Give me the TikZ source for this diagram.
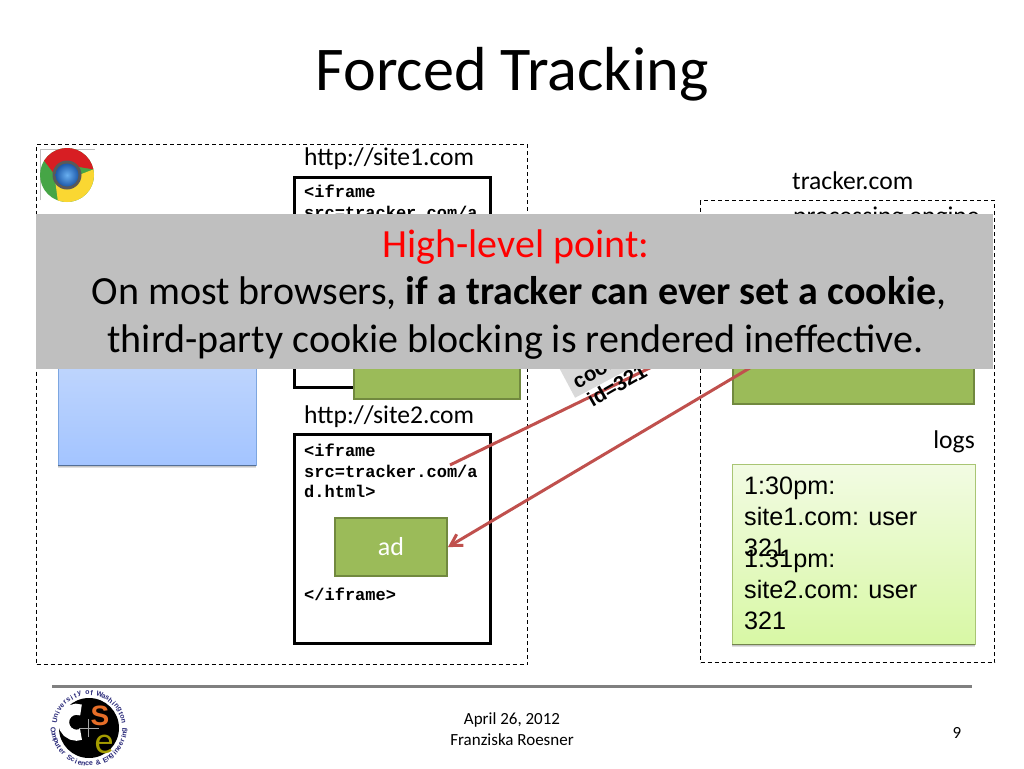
\documentclass[tikz,border=0pt]{standalone}
\usepackage{fontspec}
\setmainfont{Carlito}
\setmonofont{Liberation Mono}
\newfontfamily\arialfont{Liberation Sans}
\usepackage{xcolor}
\usetikzlibrary{arrows.meta}
\definecolor{adgreen}{RGB}{155,187,89}
\definecolor{adedge}{RGB}{113,137,63}
\definecolor{arrowred}{RGB}{192,80,77}
\definecolor{bannergray}{RGB}{191,191,191}
\definecolor{uwnavy}{RGB}{40,40,120}
\definecolor{pagetop}{RGB}{208,224,252}
\definecolor{pagebot}{RGB}{163,196,255}
\definecolor{pageedge}{RGB}{125,166,224}
\definecolor{logtop}{RGB}{242,251,227}
\definecolor{logbot}{RGB}{216,248,165}
\definecolor{logedge}{RGB}{169,197,116}
\definecolor{uwsign}{RGB}{230,110,40}
\definecolor{chromeblue}{RGB}{105,175,240}
\definecolor{chromedeep}{RGB}{30,90,170}
\definecolor{chromegreen}{RGB}{70,165,70}
\definecolor{chromered}{RGB}{215,30,35}
\definecolor{chromeyellow}{RGB}{250,215,50}
\tikzset{
  zone/.style   ={draw,line width=1pt,dash pattern=on 4pt off 3pt,anchor=north west,inner sep=0pt},
  frame/.style  ={draw,line width=3pt,anchor=north west,inner sep=0pt},
  adbox/.style  ={draw=adedge,fill=adgreen,line width=2pt,inner sep=0pt,text=white,anchor=north west,font=\fontsize{26}{30}\selectfont},
  url/.style    ={anchor=base west,inner sep=0pt,font=\fontsize{25.6}{30}\selectfont},
  code/.style   ={anchor=north west,inner sep=0pt,align=left,font=\fontsize{17}{20.5}\selectfont\ttfamily\bfseries},
  logtxt/.style ={anchor=north west,inner sep=0pt,align=left,font=\fontsize{25.2}{30.6}\selectfont\arialfont},
  msg/.style    ={-{Straight Barb[length=11pt,width=13pt]},draw=arrowred,line width=3pt},
  say/.style    ={anchor=base,inner sep=0pt,font=\fontsize{40}{44}\selectfont},
  foot/.style   ={inner sep=0pt,align=center,font=\fontsize{17}{21}\selectfont},
  softedge/.style={fill=black,opacity=.12},
  ring/.style   ={inner sep=0pt,text=uwnavy,font=\fontsize{7}{8}\selectfont\arialfont\bfseries},
}

\begin{document}
\begin{tikzpicture}[x=1pt,y=-1pt]
  \useasboundingbox[fill=white] (0,0) rectangle (1024,768);
  \node[anchor=base,inner sep=0pt,font=\fontsize{62.2}{66}\selectfont] (title) at (512,90){Forced Tracking};

  % browser side
  \node[zone,minimum width=491pt,minimum height=520pt] (browser) at (36,144){};
  \draw[gray!50,line width=.5pt] (40,200)--(40,149)--(95,149);
  \begin{scope}[shift={(67,175)},y=1pt]
    \fill[chromegreen] (0,0) circle[radius=27];
    \fill[chromered] (148:27) arc[start angle=148,end angle=12,radius=27] -- (0,10) -- (-12,0) -- cycle;
    \fill[chromeyellow] (12:27) arc[start angle=12,end angle=-110,radius=27] -- (-12,-4) -- (12,0) -- cycle;
    \fill[black!65] (0,0) circle[radius=14.5];
    \shade[inner color=chromeblue,outer color=chromedeep] (0,0) circle[radius=11.5];
  \end{scope}
  \node[shade,top color=pagetop,bottom color=pagebot,draw=pageedge,minimum width=198pt,minimum height=165pt,anchor=north west,inner sep=0pt] (page) at (58,300){};
  \foreach \d in {1,2,3}
    \fill[softedge] (page.south west) rectangle ([yshift=-\d pt]page.south east);

  \node[url] (site1) at (304,165){http://site1.com};
  \node[frame,minimum width=196pt,minimum height=210pt] (frame1) at (293,176){};
  \node[code] (code1) at (304,185){<iframe\\src=tracker.com/a};
  \node[adbox,minimum width=166pt,minimum height=98pt] (ad1) at (353,300){};

  \node[url] (site2) at (304,423){http://site2.com};
  \node[frame,minimum width=196pt,minimum height=209pt] (frame2) at (293,433){};
  \node[code] (code2) at (304,444){<iframe\\src=tracker.com/a\\d.html>};
  \node[adbox,minimum width=112pt,minimum height=58pt] (ad2) at (334,517){ad};
  \node[code] (code3) at (304,588){</iframe>};

  % tracker side
  \node[url] (tracker) at (792,189){tracker.com};
  \node[zone,minimum width=294pt,minimum height=462pt] (server) at (700,200){};
  \node[url] (engine) at (793,224){processing engine};
  \node[adbox,minimum width=241pt,minimum height=103pt] (enginebox) at (732,300){};
  \node[url,anchor=base east] (logs) at (975,448){logs};
  \node[shade,top color=logtop,bottom color=logbot,draw=logedge,minimum width=243pt,minimum height=180pt,anchor=north west,inner sep=0pt] (logbox) at (732,464){};
  \foreach \d in {1,2,3}
    \fill[softedge] (logbox.south west) rectangle ([yshift=-\d pt]logbox.south east);
  \node[logtxt] (log1) at (744,477){1:30pm:\\site1.com: user\\321};
  \node[logtxt] (log2) at (744,550){1:31pm:\\site2.com: user\\321};

  % cookie request and reply
  \coordinate (reqstart) at (450,465);
  \coordinate (reqend) at (732,328);
  \coordinate (replystart) at (797,340);
  \draw[arrowred,line width=3pt] (reqstart)--(reqend);
  \draw[msg] (replystart)--(ad2.east);
  \node[fill=black!15,rotate=28,anchor=south west,minimum width=110pt,minimum height=60pt,inner sep=0pt] (tag) at (575,398){};
  \node[rotate=30,inner sep=0pt,align=center,font=\fontsize{20.5}{23.5}\selectfont\arialfont\bfseries] (cookie) at (611,375){cookie:\\id=321};

  % message on top
  \node[fill=bannergray,minimum width=957pt,minimum height=155pt,anchor=north west,inner sep=0pt] (banner) at (36,214){};
  \node[say,text=red] (point) at (516,257){High-level point:};
  \node[say] (line1) at (519,304){On most browsers, \textbf{if a tracker can ever set a cookie},};
  \node[say] (line2) at (515.5,352){third-party cookie blocking is rendered ineffective.};

  % footer
  \draw[line width=3pt,black!50] (52,686)--(972,686);
  \begin{scope}[shift={(89,728)},y=1pt]
    \fill[black] (0,0) circle[radius=30];
    \draw[white,line width=11pt] (-8,18) arc[start angle=70,end angle=290,radius=13];
    \draw[gray!70,line width=.5pt] (-10,0)--(10,0) (-1,-9)--(-1,9);
    \node[inner sep=0pt,text=uwsign,font=\fontsize{28}{28}\selectfont\arialfont\bfseries] (logos) at (11,12){S};
    \node[inner sep=0pt,text=olive!80!yellow,font=\fontsize{38}{38}\selectfont] (logoe) at (15,-16){e};
    \foreach \ch [count=\i,evaluate=\i as \a using 174-\i*6.8] in {U,n,i,v,e,r,s,i,t,y,{},o,f,{},W,a,s,h,i,n,g,t,o,n}
      \node[ring,rotate=\a-90] at (\a:35){\ch};
    \foreach \ch [count=\i,evaluate=\i as \a using 177+\i*6] in {C,o,m,p,u,t,e,r,{},S,c,i,e,n,c,e,{},\&,{},E,n,g,i,n,e,e,r,i,n,g}
      \node[ring,rotate=\a+90] at (\a:36){\ch};
  \end{scope}
  \node[foot] (date) at (512,729){April 26, 2012\\Franziska Roesner};
  \node[foot] (pagenum) at (957,733){9};
\end{tikzpicture}
\end{document}
